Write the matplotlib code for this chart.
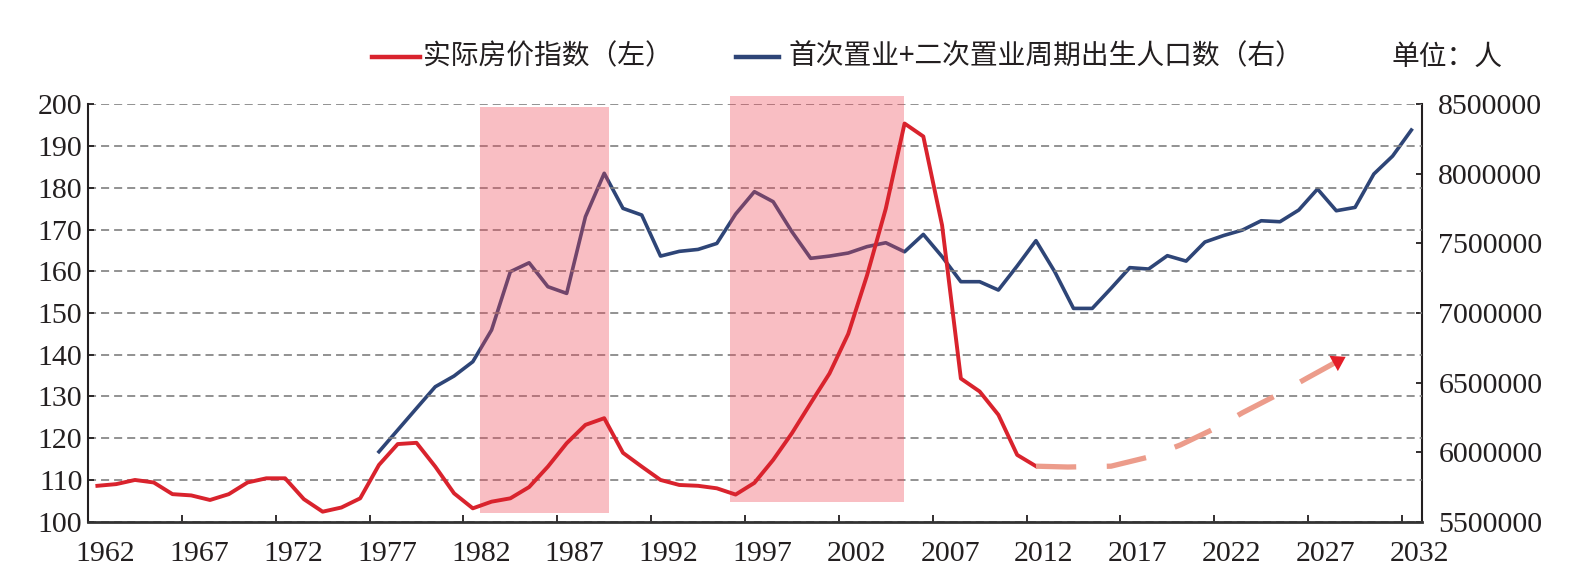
import numpy as np
import matplotlib.pyplot as plt
from matplotlib.lines import Line2D
from matplotlib.patches import Rectangle
from matplotlib.transforms import ScaledTranslation

plt.rcParams['font.family'] = ['Liberation Serif', 'Noto Sans CJK SC', 'DejaVu Sans']
plt.rcParams['lines.scale_dashes'] = False

# 实际房价指数（左）
years_price = list(range(1962, 2013))
price_index = [108.6, 109.0, 110.0, 109.4, 106.6, 106.3, 105.2, 106.6, 109.4, 110.4,
               110.4, 105.4, 102.4, 103.4, 105.6, 113.6, 118.6, 118.9, 113.2, 106.8,
               103.2, 104.8, 105.6, 108.3, 113.2, 118.8, 123.2, 124.8, 116.5, 113.2,
               110.0, 108.8, 108.6, 108.0, 106.5, 109.3, 114.8, 121.2, 128.4, 135.5,
               145.0, 159.0, 175.0, 195.4, 192.3, 171.0, 134.3, 131.2, 125.6, 116.0,
               113.3]

# 首次置业+二次置业周期出生人口数（右）
years_births = list(range(1977, 2033))
births = [6003000, 6159000, 6315000, 6470000, 6547000, 6650000, 6878000, 7297000,
          7361000, 7189000, 7141000, 7692000, 8004000, 7752000, 7704000, 7409000,
          7443000, 7457000, 7500000, 7711000, 7872000, 7800000, 7584000, 7393000,
          7409000, 7431000, 7477000, 7505000, 7440000, 7565000, 7405000, 7225000,
          7225000, 7165000, 7338000, 7520000, 7297000, 7033000, 7033000, 7177000,
          7326000, 7316000, 7412000, 7373000, 7510000, 7557000, 7596000, 7663000,
          7656000, 7740000, 7891000, 7735000, 7759000, 7999000, 8128000, 8315000]

# dashed trend arrow (left axis units)
trend_years = [2012.0, 2013.7, 2016.0, 2018.1, 2019.7, 2021.6, 2023.0, 2024.9, 2026.4, 2028.5]
trend_values = [113.3, 113.1, 113.3, 115.6, 118.4, 122.5, 126.1, 130.5, 134.3, 139.5]

# shaded periods: (start, end, bottom, top)
shade_spans = [(1982.4, 1989.25, 102.2, 199.3),
               (1995.7, 2004.97, 104.8, 202.0)]

x_labels = list(range(1962, 2033, 5))
left_ticks = list(range(100, 201, 10))
right_ticks = list(range(5500000, 8500001, 500000))

red = '#D9232D'
blue = '#2E4577'
txt = '#231F20'

fig = plt.figure(figsize=(15.86, 5.79), dpi=100)
ax = fig.add_axes([88 / 1586, 1 - 521.7 / 579, (1421.7 - 88) / 1586, (521.7 - 104.3) / 579])
ax2 = ax.twinx()
ax.set_zorder(ax2.get_zorder() + 1)
ax.patch.set_visible(False)

ax2.plot(years_births, births, color=blue, lw=2.6, zorder=2)
ax.plot(years_price, price_index, color=red, lw=2.8, zorder=5)
ax.plot(trend_years, trend_values, color='#EC9C8B', lw=3.8,
        linestyle=(0, (29, 22)), dash_capstyle='butt', zorder=5)
ax.annotate('', xy=(trend_years[-1], trend_values[-1]),
            xytext=(trend_years[-2], trend_values[-2]),
            arrowprops=dict(arrowstyle='-|>,head_length=0.55,head_width=0.35',
                            color='#E41E28', lw=0, mutation_scale=18, shrinkA=0, shrinkB=0),
            zorder=6)

for x0, x1, y0, y1 in shade_spans:
    ax.add_patch(Rectangle((x0, y0), x1 - x0, y1 - y0, facecolor=(240 / 255, 70 / 255, 85 / 255),
                           alpha=0.35, lw=0, zorder=4, clip_on=False))

ax.set_xlim(1961.5, 2032.55)
ax.set_ylim(100, 200)
ax2.set_ylim(5500000, 8500000)

ax.set_yticks(left_ticks)
ax.set_yticklabels([str(v) for v in left_ticks])
ax2.set_yticks(right_ticks)
ax2.set_yticklabels([str(v) for v in right_ticks])
ax.set_xticks(x_labels)
ax.set_xticklabels([str(v) for v in x_labels])
ax.set_xticks(np.arange(1966.5, 2032, 5), minor=True)

ax.grid(axis='y', color='#7F7F7F', lw=1.2, linestyle=(0, (5.8, 3.6)))
ax.set_axisbelow(True)

fs = 21.5
ax.tick_params(axis='y', direction='in', length=4, width=1.3, pad=4,
               labelsize=fs, labelcolor=txt, color=txt)
ax.tick_params(axis='x', which='major', length=0, pad=14, labelsize=fs, labelcolor=txt)
ax.tick_params(axis='x', which='minor', direction='in', length=5, width=1.3, color=txt)
ax2.tick_params(axis='y', direction='in', length=4, width=1.3, pad=12,
                labelsize=fs, labelcolor=txt, color=txt)

for lab in ax.get_xticklabels():
    lab.set_transform(lab.get_transform() + ScaledTranslation(8 / 100, 0, fig.dpi_scale_trans))

for a in (ax, ax2):
    a.spines['top'].set_visible(False)
ax.spines['right'].set_visible(False)
ax2.spines['left'].set_visible(False)
ax2.spines['bottom'].set_visible(False)
ax.spines['left'].set_linewidth(1.5)
ax.spines['left'].set_color(txt)
ax.spines['bottom'].set_linewidth(2)
ax.spines['bottom'].set_color('#333333')
ax2.spines['right'].set_linewidth(1.5)
ax2.spines['right'].set_color(txt)

# legend
ly = 1 - 56.7 / 579
fig.add_artist(Line2D([371.7 / 1586, 420 / 1586], [ly, ly], transform=fig.transFigure,
                      color=red, lw=3.2))
fig.text(423 / 1586, ly, '实际房价指数（左）', fontsize=20, color=txt, va='center', ha='left',
         family=['Noto Sans CJK SC', 'DejaVu Sans'])
fig.add_artist(Line2D([736.4 / 1586, 778.9 / 1586], [ly, ly], transform=fig.transFigure,
                      color=blue, lw=3.2))
fig.text(789 / 1586, ly, '首次置业+二次置业周期出生人口数（右）', fontsize=20, color=txt,
         va='center', ha='left', family=['Noto Sans CJK SC', 'DejaVu Sans'])
fig.text(1391.7 / 1586, ly, '单位：人', fontsize=20, color=txt, va='center', ha='left',
         family=['Noto Sans CJK SC', 'DejaVu Sans'])

fig.savefig('out.png', dpi=100)
